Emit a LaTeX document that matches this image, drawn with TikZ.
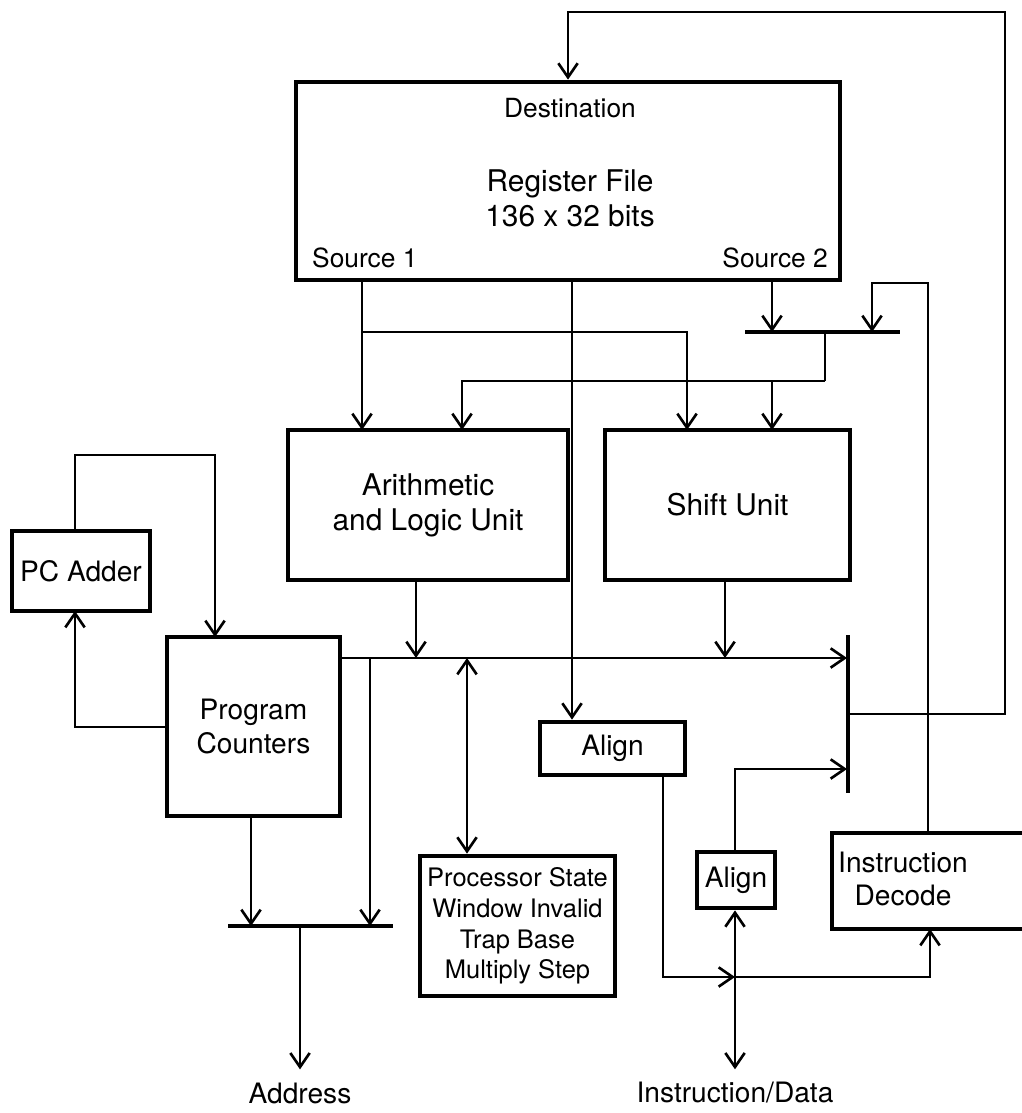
\documentclass[tikz,border=0pt]{standalone}
\usepackage{fontspec}
\setmainfont{TeX Gyre Heros}
\usetikzlibrary{arrows.meta}

\tikzset{
  blk/.style={draw, line width=2.7pt, align=center, inner sep=0pt},
  lbl/.style={align=center, inner sep=1pt},
  bar/.style={line width=1.9pt},
}

\begin{document}
\begin{tikzpicture}[x=0.2mm, y=-0.2mm, line width=1.6pt,
    >={Straight Barb[length=8pt, width=11pt, line width=1.5pt]},
    every node/.style={font=\fontsize{16}{19}\selectfont}]
				\useasboundingbox (0,0) rectangle (1022,1113);
				
				% 1. Register file
				\node[blk, minimum width=108.8mm, minimum height=39.6mm] (rf) at (568,181) {};
				\node[lbl, font=\fontsize{15}{18}\selectfont] (dest) at (570,108) {Destination};
				\node[lbl, font=\fontsize{17}{20}\selectfont] (rftxt) at (570,198) {Register File\\136 x 32 bits};
				\node[lbl, anchor=west, font=\fontsize{15}{18}\selectfont] (src1) at (309,258) {Source 1};
				\node[lbl, anchor=east, font=\fontsize{15}{18}\selectfont] (src2) at (831,258) {Source 2};
				
				% 2. Function units
				\node[blk, minimum width=56mm, minimum height=30mm, font=\fontsize{17}{20}\selectfont] (alu) at (428,505) {Arithmetic\\and Logic Unit};
				\node[blk, minimum width=49mm, minimum height=30mm, font=\fontsize{17}{20}\selectfont] (shift) at (727.5,505) {Shift Unit};
				\node[blk, minimum width=27.6mm, minimum height=16mm] (pcadd) at (81,571) {PC Adder};
				\node[blk, minimum width=34.6mm, minimum height=35.8mm] (pc) at (253.5,726.5) {Program\\Counters};
				\node[blk, minimum width=39mm, minimum height=28mm, font=\fontsize{14.5}{17.5}\selectfont] (psr) at (517.5,926) {Processor State\\Window Invalid\\Trap Base\\Multiply Step};
				\node[blk, minimum width=29mm, minimum height=10.6mm] (aln1) at (612.5,748.5) {Align};
				\node[blk, minimum width=15.6mm, minimum height=11.2mm] (aln2) at (736,880) {Align};
				\node[blk, minimum width=41.6mm, minimum height=19.2mm] (idec) at (936,881) {};
				\node[lbl] (idectxt) at (903,879) {Instruction\\Decode};
				
				% 3. Multiplexer bars
				\coordinate (omuxL) at (745,332);
				\coordinate (omuxR) at (900,332);
				\coordinate (rmuxT) at (848,635);
				\coordinate (rmuxB) at (848,793);
				\coordinate (amuxL) at (228,926);
				\coordinate (amuxR) at (393,926);
				\draw[bar] (omuxL) -- (omuxR);
				\draw[bar] (rmuxT) -- (rmuxB);
				\draw[bar] (amuxL) -- (amuxR);
				
				% 4. Operand paths
				\coordinate (S1) at (362,280);
				\coordinate (RD) at (572,280);
				\coordinate (S2) at (772,280);
				\coordinate (aluA) at (362,430);
				\coordinate (aluB) at (462,430);
				\coordinate (shA) at (687,430);
				\coordinate (shB) at (772,430);
				\coordinate (omuxA) at (772,332);
				\coordinate (omuxB) at (872,332);
				\coordinate (omuxO) at (825,332);
				\coordinate (omuxD) at (825,381);
				\coordinate (idecT) at (928,833);
				\draw[->] (S1) -- (aluA);
				\draw[->] (S1 |- omuxA) -| (shA);
				\draw[->] (S2) -- (omuxA);
				\draw[->] (idecT) -- ++(0,-550) -| (omuxB);
				\draw (omuxO) -- (omuxD);
				\draw[->] (omuxD) -| (aluB);
				\draw[->] (omuxD -| shB) -- (shB);
				\draw[->] (RD) -- (RD |- aln1.north);
				
				% 5. Result bus and write back
				\coordinate (busL) at (340,658);
				\coordinate (busR) at (847,658);
				\coordinate (aluO) at (416,580);
				\coordinate (shO) at (725,580);
				\coordinate (wb) at (848,714);
				\coordinate (psrB) at (467,658);
				\draw[->] (busL) -- (busR);
				\draw[->] (aluO) -- (aluO |- busL);
				\draw[->] (shO) -- (shO |- busL);
				\draw[->] (wb) -| (1005,12) -| (rf.north);
				\draw[<->] (psrB) -- (psrB |- psr.north);
				
				% 6. Program counters and address
				\coordinate (pcaT) at (75,531);
				\coordinate (pcaB) at (75,611);
				\coordinate (pcT) at (215,637);
				\coordinate (pcL) at (167,727);
				\coordinate (pcO) at (251,816);
				\coordinate (busD) at (370,658);
				\coordinate (addrO) at (300,926);
				\draw[->] (pcaT) -- ++(0,-76) -| (pcT);
				\draw[->] (pcL) -| (pcaB);
				\draw[->] (pcO) -- (pcO |- amuxL);
				\draw[->] (busD) -- (busD |- amuxL);
				\node[lbl] (addr) at (300,1093) {Address};
				\draw[->, shorten >=2mm] (addrO) -- (addr.north);
				
				% 7. Instruction / data path
				\coordinate (al1O) at (663,775);
				\coordinate (ioJ) at (735,977);
				\coordinate (idecB) at (930,929);
				\coordinate (rmuxI) at (847,769);
				\node[lbl] (iod) at (735,1093) {Instruction/Data};
				\draw[<->, shorten >=2mm] (aln2.south -| ioJ) -- (iod.north -| ioJ);
				\draw[->] (al1O) |- (ioJ);
				\draw[->] (ioJ) -| (idecB);
				\draw[->] (aln2.north -| ioJ) |- (rmuxI);
				
			\end{tikzpicture}
\end{document}
